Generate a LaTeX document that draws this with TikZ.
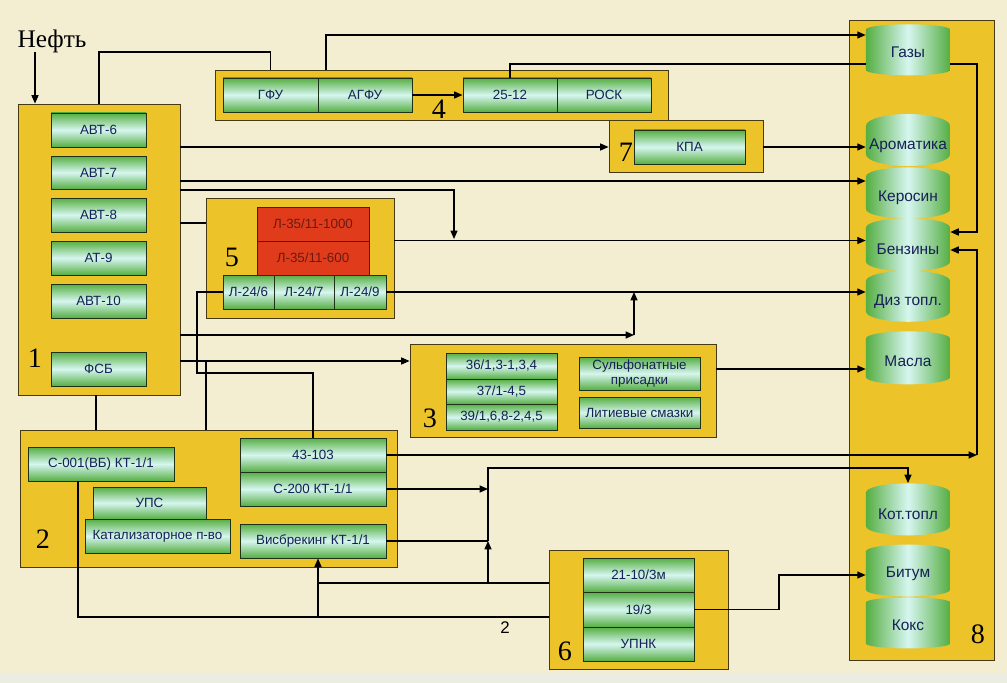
\documentclass[tikz,border=0pt]{standalone}
\usepackage{fontspec}
\setmainfont{Liberation Serif}
\setsansfont{Liberation Sans}
\usepackage{tikz}
\usetikzlibrary{shapes,arrows.meta,positioning,calc}

\definecolor{paper}{RGB}{243,238,209}
\definecolor{paperlow}{RGB}{236,237,226}
\definecolor{grpyel}{RGB}{236,196,42}
\definecolor{grpline}{RGB}{70,58,20}
\definecolor{gedge}{RGB}{86,174,66}
\definecolor{gpale}{RGB}{214,246,240}
\definecolor{boxline}{RGB}{30,50,25}
\definecolor{boxtext}{RGB}{22,32,86}
\definecolor{redbox}{RGB}{224,60,28}
\definecolor{redtext}{RGB}{110,25,15}

\tikzset{
  grp/.style={draw=grpline, line width=0.6pt, fill=grpyel, inner sep=0pt},
  gbox/.style={draw=boxline, line width=0.7pt, top color=gedge, bottom color=gedge,
    middle color=gpale, text=boxtext, inner sep=0pt, align=center,
    font=\sffamily\fontsize{9.5}{10.5}\selectfont},
  rbox/.style={draw=boxline, line width=0.7pt, fill=redbox, text=redtext, inner sep=0pt,
    font=\sffamily\fontsize{9.5}{10.5}\selectfont},
  tank/.style={cylinder, shape border rotate=90, aspect=0.3, draw=none,
    left color=gedge, right color=gedge, middle color=gpale,
    minimum width=2.1cm, inner sep=0pt, text=boxtext,
    font=\sffamily\fontsize{11}{13}\selectfont},
  num/.style={font=\fontsize{20}{22}\selectfont},
  flow/.style={line width=0.9pt},
  >={Triangle[length=6pt,width=5pt]}
}

% style, name, x1, y1, x2, y2, text (pixel units)
\newcommand{\blk}[7][gbox]{\node[#1, minimum width={(#5-#3)*0.025cm},
  minimum height={(#6-#4)*0.025cm}] (#2) at ({(#3+#5)/2},{(#4+#6)/2}) {#7};}
\newcommand{\drum}[4]{\node[tank, minimum height={(#4-#3)*0.025cm}] (#1)
  at (908,{(#3+#4)/2}) {#2};}

\begin{document}
\begin{tikzpicture}[x=0.025cm, y=-0.025cm]
\useasboundingbox (0,0) rectangle (1007,683);
\fill[paper] (0,0) rectangle (1007,683);
\fill[paperlow] (0,673) rectangle (1007,683);

% groups
\blk[grp]{g1}{18}{104}{180}{395}{}
\blk[grp]{g4}{215}{70}{668}{120}{}
\blk[grp]{g7}{609}{120}{763}{172}{}
\blk[grp]{g5}{206}{198}{394}{318}{}
\blk[grp]{g3}{410}{344}{716}{437}{}
\blk[grp]{g2}{20}{430}{397}{567}{}
\blk[grp]{g6}{549}{550}{728}{669}{}
\blk[grp]{g8}{849}{20}{994}{660}{}

\node (neft) at (52,41) {\fontsize{18}{20}\selectfont Нефть};
\node[num] (n1) at (35,358) {1};
\node[num] (n2) at (43,539) {2};
\node[num] (n3) at (430,418) {3};
\node[num] (n4) at (439,109) {4};
\node[num] (n5) at (232,257) {5};
\node[num] (n6) at (565,651) {6};
\node[num] (n7) at (626,152) {7};
\node[num] (n8) at (978,634) {8};

% 1
\blk{avt6}{51}{113}{146}{147}{АВТ-6}
\blk{avt7}{51}{156}{146}{189}{АВТ-7}
\blk{avt8}{51}{198}{146}{232}{АВТ-8}
\blk{at9}{51}{241}{146}{275}{АТ-9}
\blk{avt10}{51}{284}{146}{318}{АВТ-10}
\blk{fsb}{51}{352}{146}{386}{ФСБ}
% 4
\blk{gfu}{223}{78}{318}{112}{ГФУ}
\blk{agfu}{318}{78}{412}{112}{АГФУ}
\blk{u25}{463}{78}{557}{112}{25-12}
\blk{rosk}{557}{78}{651}{112}{РОСК}
% 7
\blk{kpa}{634}{130}{745}{164}{КПА}
% 5
\blk[rbox]{l1000}{257}{207}{369}{241}{Л-35/11-1000}
\blk[rbox]{l600}{257}{241}{369}{275}{Л-35/11-600}
\blk{l246}{223}{275}{274}{309}{Л-24/6}
\blk{l247}{274}{275}{334}{309}{Л-24/7}
\blk{l249}{334}{275}{386}{309}{Л-24/9}
% 3
\blk{u36}{446}{353}{557}{379}{36/1,3-1,3,4}
\blk{u37}{446}{379}{557}{404}{37/1-4,5}
\blk{u39}{446}{404}{557}{430}{39/1,6,8-2,4,5}
\blk{sulf}{579}{357}{700}{390}{Сульфонатные\\присадки}
\blk{lit}{579}{397}{700}{428}{Литиевые смазки}
% 2
\blk{c001}{28}{447}{174}{481}{С-001(ВБ) КТ-1/1}
\blk{ups}{93}{487}{206}{519}{УПС}
\blk{kat}{85}{519}{230}{553}{Катализаторное п-во}
\blk{u43}{240}{438}{386}{472}{43-103}
\blk{c200}{240}{472}{386}{506}{С-200 КТ-1/1}
\blk{visb}{240}{524}{386}{558}{Висбрекинг КТ-1/1}
% 6
\blk{u21}{583}{558}{694}{592}{21-10/3м}
\blk{u19}{583}{592}{694}{627}{19/3}
\blk{upnk}{583}{627}{694}{661}{УПНК}
% 8
\drum{gas}{Газы}{27}{78}
\drum{arom}{Ароматика}{120}{172}
\drum{ker}{Керосин}{172}{223}
\drum{benz}{Бензины}{223}{276}
\drum{diz}{Диз топл.}{276}{327}
\drum{masl}{Масла}{335}{388}
\drum{kot}{Кот.топл}{488}{540}
\drum{bit}{Битум}{548}{600}
\drum{koks}{Кокс}{600}{651}

% connectors
\coordinate (nin) at (35,52);
\draw[flow,->] (nin) -- (nin |- g1.north);
\coordinate (t1) at (99,52);
\draw[flow] (t1 |- g1.north) -- (t1) -| (gfu.north |- g4.north);
\coordinate (t2) at (326,35);
\draw[flow,->] (t2 |- g4.north) -- (t2) -- (t2 -| gas.west);
\draw[flow,->] (agfu) -- (u25);
\coordinate (t3) at (977,64);
\coordinate (t4) at (977,232);
\draw[flow] (u25.north) |- (t3 -| gas.west);
\draw[flow,->] (t3 -| gas.east) -- (t3) -- (t4) -- (t4 -| benz.east);
\draw[flow,->] (g1.east |- kpa) -- (g7.west |- kpa);
\draw[flow,->] (g7.east |- kpa) -- (arom.west |- kpa);
\draw[flow,->] (g1.east |- 0,181) -- (ker.west |- 0,181);
\coordinate (t6) at (454,190);
\coordinate (t7) at (454,239);
\draw[flow,->] (g1.east |- t6) -- (t6) -- (t7);
\draw[flow] (g1.east |- 0,223) -- (g5.west |- 0,223);
\draw[flow,->] (g5.east |- l600.north) -- (benz.west |- l600.north);
\draw[flow,->] (l249.east) -- (l249 -| diz.west);
\coordinate (t8) at (634,335);
\draw[flow,->] (g1.east |- t8) -- (t8);
\draw[flow,->] (t8) -- (t8 |- l249);
\draw[flow,->] (g1.east |- 0,361) -- (g3.west |- 0,361);
\coordinate (t9) at (206,361);
\draw[flow] (t9) -- (t9 |- g2.north);
\coordinate (t10) at (197,373);
\draw[flow] (l246.west) -| (t10) -| (u43.north);
\draw[flow] (g1.south -| 96,0) -- (g2.north -| 96,0);
\coordinate (t12) at (977,250);
\draw[flow,->] (u43.east) -- (u43.east -| t12);
\draw[flow,->] (u43.east -| t12) -- (t12) -- (t12 -| benz.east);
\coordinate (t13) at (488,468);
\draw[flow,->] (c200.east) -- (c200.east -| t13);
\draw[flow] (visb.east) -- (visb.east -| t13);
\coordinate (t14) at (318,583);
\draw[flow,->] (g6.west |- t14) -- (t14) -- (t14 |- visb.south);
\draw[flow,->] (t13 |- t14) -- (t13 |- visb.east);
\draw[flow,->] (t13 |- visb.east) -- (t13) -| (kot.north);
\coordinate (t15) at (78,617);
\draw[flow] (c001.south -| t15) -- (t15) -- (t15 -| g6.west);
\draw[flow] (t15 -| t14) -- (t14);
\node[font=\sffamily\fontsize{12}{14}\selectfont] (lab2) at (505,628) {2};
\coordinate (t16) at (779,575);
\draw[flow,->] (u19.east) -| (t16) -- (t16 -| bit.west);
\draw[flow,->] (g3.east |- 0,369) -- (masl.west |- 0,369);
\end{tikzpicture}
\end{document}
